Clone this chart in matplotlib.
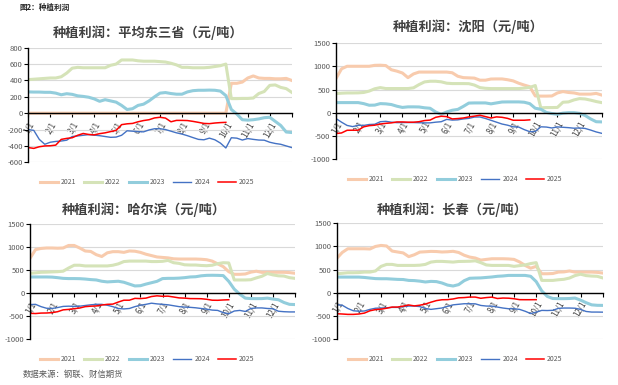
import numpy as np
import matplotlib
matplotlib.use('Agg')
import matplotlib.pyplot as plt

plt.rcParams['font.family'] = ['Noto Sans CJK SC', 'DejaVu Sans']

years = ['2021', '2022', '2023', '2024', '2025']
colors = ['#F8CBAD', '#D5E3B8', '#92CDDC', '#4472C4', '#FF0000']
widths = [2.2, 2.2, 2.2, 1.0, 1.1]
month_labels = ['1/1', '2/1', '3/1', '4/1', '5/1', '6/1',
                '7/1', '8/1', '9/1', '10/1', '11/1', '12/1']

# x position in months from 1/1, one point per quarter month
t = np.arange(49) * 0.25

# ---- 平均东三省 ----
avg_2021 = [0, 0, 0, 0, 0, 0, 0, 0, 0, 0, 0, 0,
            0, 0, 0, 0, 0, 0, 0, 0, 0, 0, 0, 0,
            0, 0, 0, 0, 0, 0, 0, 0, 0, 0, 0, 0,
            0, 365, 365, 380, 430, 455, 430, 425, 425, 420, 420, 425, 400]
avg_2022 = [410, 415, 420, 425, 430, 430, 445, 490, 550, 560, 555, 555,
            555, 555, 555, 585, 600, 650, 650, 650, 640, 635, 635, 635,
            630, 625, 610, 590, 560, 560, 555, 555, 555, 560, 570, 580,
            600, 178, 178, 180, 180, 185, 240, 265, 340, 345, 315, 300, 255]
avg_2023 = [260, 258, 258, 255, 255, 245, 225, 238, 230, 212, 205, 195,
            175, 145, 165, 150, 135, 95, 45, 55, 95, 110, 150, 200,
            245, 252, 240, 232, 232, 260, 275, 280, 280, 282, 280, 270,
            215, 45, -10, -80, -85, -80, -70, -55, -50, -100, -150, -230, -236]
avg_2024 = [-200, -210, -320, -380, -355, -345, -340, -330, -285, -278, -270, -262,
            -268, -275, -285, -295, -292, -270, -215, -220, -225, -228, -205, -190,
            -190, -200, -220, -240, -255, -275, -298, -320, -325, -305, -325, -365,
            -425, -300, -305, -328, -310, -320, -328, -330, -355, -370, -380, -400, -420]
avg_2025 = [-420, -430, -410, -400, -398, -390, -320, -308, -300, -270, -248, -260,
            -265, -250, -240, -225, -210, -140, -130, -125, -105, -90, -80, -58,
            -50, -60, -105, -88, -88, -90, -100, -112, -125, -128, -120, -115,
            -112]

# ---- 沈阳 ----
sy_2021 = [740, 950, 1005, 1005, 1005, 1005, 1005, 1025, 1028, 1020, 930, 900,
           860, 760, 840, 880, 880, 880, 880, 880, 880, 865, 790, 760,
           755, 750, 705, 705, 730, 732, 732, 715, 690, 640, 600, 565,
           366, 362, 362, 365, 430, 460, 440, 430, 405, 405, 405, 420, 385]
sy_2022 = [416, 425, 430, 430, 432, 440, 470, 520, 545, 525, 525, 525,
           525, 525, 540, 610, 668, 682, 682, 670, 640, 632, 632, 632,
           630, 600, 545, 530, 524, 524, 524, 524, 524, 524, 535, 550,
           590, 110, 115, 115, 118, 230, 237, 280, 308, 300, 275, 245, 222]
sy_2023 = [222, 222, 222, 222, 222, 200, 165, 168, 200, 195, 180, 144,
           118, 130, 130, 128, 110, 100, 20, -30, 20, 57, 75, 140,
           212, 215, 215, 215, 195, 215, 235, 237, 237, 237, 230, 200,
           100, 79, 10, -14, -30, -5, 5, 5, -10, -55, -130, -190, -194]
sy_2024 = [-122, -200, -270, -295, -268, -270, -250, -245, -190, -182, -200, -210,
           -208, -208, -208, -212, -215, -215, -200, -190, -140, -155, -150, -130,
           -118, -90, -88, -120, -160, -200, -240, -265, -300, -305, -360, -405,
           -400, -300, -305, -325, -302, -310, -318, -330, -325, -335, -370, -410, -440]
sy_2025 = [-445, -432, -375, -373, -373, -300, -275, -265, -240, -225, -215, -195,
           -195, -200, -200, -190, -165, -155, -95, -72, -80, -130, -122, -110,
           -86, -70, -50, -80, -110, -86, -95, -118, -158, -158, -158, -150]

# ---- 哈尔滨 ----
hrb_2021 = [760, 950, 975, 985, 985, 980, 985, 1040, 1040, 985, 920, 910,
            840, 800, 880, 905, 905, 890, 920, 915, 890, 850, 820, 790,
            780, 770, 750, 745, 745, 745, 745, 740, 730, 700, 640, 580,
            470, 413, 413, 420, 460, 480, 455, 457, 457, 457, 457, 450, 435]
hrb_2022 = [435, 445, 457, 460, 465, 470, 480, 550, 610, 610, 595, 595,
            595, 595, 595, 610, 640, 690, 700, 700, 700, 700, 690, 690,
            695, 715, 665, 650, 620, 615, 615, 605, 600, 610, 645, 665,
            660, 290, 290, 290, 295, 335, 370, 430, 400, 380, 375, 340, 325]
hrb_2023 = [355, 355, 355, 355, 352, 340, 325, 320, 320, 318, 310, 298,
            290, 262, 248, 255, 262, 240, 200, 160, 165, 200, 230, 260,
            320, 325, 325, 330, 340, 355, 360, 380, 390, 392, 390, 385,
            260, 90, -20, -105, -115, -116, -115, -105, -125, -140, -200, -240, -245]
hrb_2024 = [-245, -240, -290, -325, -330, -310, -285, -280, -285, -280, -265, -250,
            -240, -240, -260, -290, -330, -340, -330, -290, -260, -240, -215, -230,
            -240, -250, -270, -290, -300, -305, -315, -330, -345, -365, -372, -420,
            -445, -385, -372, -395, -330, -318, -318, -330, -335, -390, -400, -405, -405]
hrb_2025 = [-435, -440, -430, -428, -420, -400, -360, -350, -335, -320, -290, -280,
            -275, -255, -240, -235, -190, -150, -150, -110, -115, -105, -70, -55,
            -65, -62, -80, -100, -105, -115, -116, -118, -130, -150, -152, -145,
            -140]

# ---- 长春 ----
cc_2021 = [740, 870, 950, 950, 950, 950, 945, 1000, 1022, 1010, 900, 880,
           860, 780, 820, 878, 885, 893, 890, 880, 885, 895, 870, 810,
           770, 750, 705, 720, 734, 734, 734, 730, 720, 665, 590, 530,
           570, 410, 410, 415, 446, 450, 470, 446, 446, 446, 446, 440, 425]
cc_2022 = [410, 420, 432, 432, 435, 446, 446, 470, 569, 612, 612, 590,
           590, 590, 590, 595, 612, 662, 677, 677, 670, 662, 675, 677,
           680, 690, 650, 600, 590, 590, 590, 590, 570, 585, 600, 630,
           650, 266, 266, 266, 280, 290, 317, 370, 400, 370, 360, 355, 320]
cc_2023 = [338, 338, 338, 338, 338, 330, 317, 305, 302, 302, 295, 288,
           285, 266, 262, 250, 232, 245, 240, 210, 165, 145, 175, 260,
           312, 317, 320, 330, 340, 355, 362, 374, 374, 374, 374, 355,
           240, 40, -80, -125, -128, -128, -125, -115, -160, -215, -262, -272, -274]
cc_2024 = [-259, -270, -340, -390, -400, -395, -360, -335, -330, -325, -317, -317,
           -300, -288, -288, -300, -340, -360, -345, -330, -295, -262, -250, -238,
           -238, -240, -275, -288, -290, -310, -331, -346, -346, -360, -400, -450,
           -420, -382, -385, -380, -338, -331, -331, -335, -360, -405, -418, -418, -420]
cc_2025 = [-454, -460, -468, -468, -460, -440, -390, -365, -355, -335, -310, -310,
           -290, -265, -285, -270, -245, -205, -170, -152, -150, -135, -110, -105,
           -94, -94, -120, -105, -95, -125, -115, -118, -130, -150, -151, -151,
           -150]

W, H = 618.0, 385.0


def px_rect(left, top, right, bottom):
    return [left / W, 1 - bottom / H, (right - left) / W, (bottom - top) / H]


def draw_panel(fig, rect, data, yticks, title, title_xy, legend_xy):
    ax = fig.add_axes(px_rect(*rect))
    lines = []
    for i, vals in enumerate(data):
        ln, = ax.plot(t[:len(vals)], vals, color=colors[i], lw=widths[i],
                      label=years[i], solid_joinstyle='round')
        lines.append(ln)
    ax.set_xlim(0, 12)
    ax.set_ylim(yticks[0], yticks[-1])
    ax.set_yticks(yticks)
    ax.set_yticklabels([str(v) for v in yticks])
    ax.yaxis.grid(True, color='#D9D9D9', lw=0.8)
    ax.set_axisbelow(True)
    ax.spines['top'].set_visible(False)
    ax.spines['right'].set_visible(False)
    ax.spines['bottom'].set_position(('data', 0))
    ax.spines['bottom'].set_linewidth(1.0)
    ax.spines['bottom'].set_zorder(3)
    ax.spines['left'].set_linewidth(1.0)
    ax.set_xticks(range(13))
    ax.set_xticklabels(month_labels + [''], rotation=60, ha='right', va='top',
                       rotation_mode='anchor')
    ax.tick_params(axis='x', direction='out', length=3, width=0.8, pad=2,
                   labelsize=5.8, labelcolor='#404040')
    ax.tick_params(axis='y', direction='out', length=3, width=0.8, pad=1,
                   labelsize=5.5, labelcolor='#595959')
    fig.text(title_xy[0] / W, 1 - title_xy[1] / H, title, ha='center', va='center',
             fontsize=9.5, fontweight='bold', color='#404040')
    fig.legend(lines, years, loc='center',
               bbox_to_anchor=(legend_xy[0] / W, 1 - legend_xy[1] / H),
               ncol=5, frameon=False, fontsize=5, handlelength=2.6,
               handletextpad=0.4, columnspacing=1.2, labelcolor='#595959')
    return ax


fig = plt.figure(figsize=(6.18, 3.85), dpi=100)

draw_panel(fig, (28.3, 47.7, 291.7, 162.3),
           [avg_2021, avg_2022, avg_2023, avg_2024, avg_2025],
           [-600, -400, -200, 0, 200, 400, 600, 800],
           '种植利润：平均东三省（元/吨）', (148, 33), (147, 182))
draw_panel(fig, (336, 43.3, 601.7, 159.3),
           [sy_2021, sy_2022, sy_2023, sy_2024, sy_2025],
           [-1000, -500, 0, 500, 1000, 1500],
           '种植利润：沈阳（元/吨）', (468, 27), (455, 179))
draw_panel(fig, (30, 224.3, 295, 339.3),
           [hrb_2021, hrb_2022, hrb_2023, hrb_2024, hrb_2025],
           [-1000, -500, 0, 500, 1000, 1500],
           '种植利润：哈尔滨（元/吨）', (144, 210), (147, 359))
draw_panel(fig, (336.7, 223.3, 602.7, 339),
           [cc_2021, cc_2022, cc_2023, cc_2024, cc_2025],
           [-1000, -500, 0, 500, 1000, 1500],
           '种植利润：长春（元/吨）', (452, 210), (455, 359))

fig.text(20 / W, 1 - 7 / H, '图2：种植利润', fontsize=5.5, fontweight='bold',
         va='center', color='#262626')
fig.text(23 / W, 1 - 374 / H, '数据来源：钢联、财信期货', fontsize=6,
         style='italic', va='center', color='#595959')

fig.savefig('out.png', dpi=100)
